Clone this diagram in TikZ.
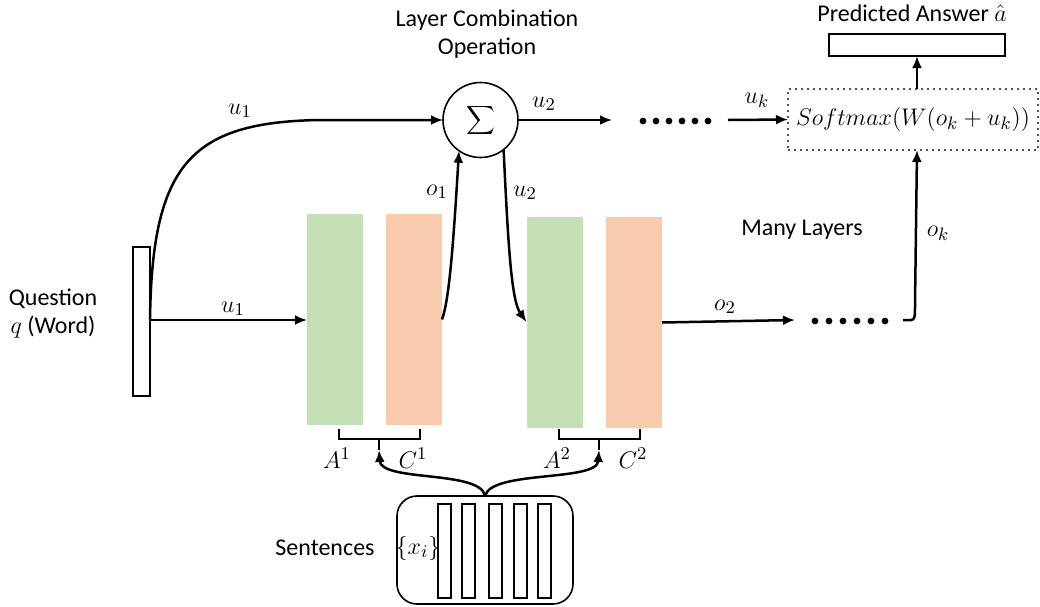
\documentclass[tikz,border=0pt]{standalone}
\usepackage{fontspec}
\setmainfont{Carlito}
\usetikzlibrary{arrows.meta}
\definecolor{boxgreen}{HTML}{C5E0B4}
\definecolor{boxorange}{HTML}{F8CBAD}
\definecolor{dotblue}{HTML}{2F5597}
\begin{document}
\begin{tikzpicture}[x=0.5pt,y=-0.5pt,
  every node/.style={inner sep=0pt, outer sep=0pt},
  txt/.style={font=\fontsize{12}{14}\selectfont, align=center},
  mlbl/.style={font=\fontsize{13}{15}\selectfont},
  conn/.style={line width=1.25pt, -{Latex[length=6pt,width=5pt]}},
  outline/.style={draw, line width=0.8pt},
  memgreen/.style={fill=boxgreen, minimum width=28pt, minimum height=105.5pt},
  memorange/.style={fill=boxorange, minimum width=28pt, minimum height=105.5pt},
  sentbar/.style={outline, fill=white, minimum width=6.5pt, minimum height=47pt},
  dotrow/.style={minimum height=6pt},
  bracket/.style={line width=0.8pt}
]
\useasboundingbox (0,0) rectangle (1040,606);

% question vector
\node[outline, minimum width=8.5pt, minimum height=74.5pt] (q) at (141.5,321.5) {};
\coordinate (qo) at (150,320);
\node[txt] (qtxt) at (53,314) {Question\\$q$ (Word)};

% memory layers
\node[memgreen]  (g1) at (335,319.5) {};
\node[memorange] (o1) at (414,319.5) {};
\node[memgreen]  (g2) at (554.5,322) {};
\node[memorange] (o2) at (634,322.5) {};

% combination operation
\node[draw, circle, line width=0.8pt, minimum size=37.5pt] (sigma) at (480.5,120)
  {\fontsize{15}{17}\selectfont$\displaystyle\sum$};
\node[txt] (comb) at (487,34) {Layer Combination\\Operation};

% output stage
\node[draw=dotblue, dotted, line width=1pt, minimum width=125pt, minimum height=30.5pt] (soft) at (913,119.5)
  {\fontsize{12.5}{14}\selectfont$Softmax(W(o_k+u_k))$};
\node[outline, minimum width=88pt, minimum height=11pt] (pred) at (917,45) {};
\node[txt] (predtxt) at (912,13) {Predicted Answer $\hat{a}$};
\node[txt] (many) at (802,230) {Many Layers};

% dotted continuations
\node[dotrow, minimum width=58pt] (dots1) at (670,120) {};
\foreach \x in {643,656,669,682,695,708} \fill (\x,121) circle (3.4);
\node[dotrow, minimum width=54pt] (dots2) at (849,320) {};
\foreach \x in {815,829,843,857,871,885} \fill (\x,321) circle (3.4);

% sentences
\node[outline, rounded corners=10pt, minimum width=88pt, minimum height=54pt] (sent) at (485,550) {};
\foreach \x/\n in {444.5/b1,468.5/b2,495.5/b3,520.5/b4,544.5/b5}
  \node[sentbar] (\n) at (\x,551) {};
\node[mlbl] (xi) at (418,548) {$\{x_i\}$};
\node[txt] (senttxt) at (325,548) {Sentences};

% embedding brackets
\draw[bracket] (339,429) -- (339,439) -- (420,439) -- (420,429);
\coordinate (br1) at (379,450);
\draw[bracket] (379,439) -- (br1);
\draw[bracket] (559,429) -- (559,439) -- (640,439) -- (640,429);
\coordinate (br2) at (599,450);
\draw[bracket] (599,439) -- (br2);
\node[mlbl] (A1) at (337,458) {$A^1$};
\node[mlbl] (C1) at (413,458) {$C^1$};
\node[mlbl] (A2) at (557,458) {$A^2$};
\node[mlbl] (C2) at (633,458) {$C^2$};

% connectors
\draw[conn] (qo) -- (g1.west |- qo);
\node[mlbl] at (233,309) {$u_1$};
\draw[conn] (qo) .. controls (152,165) and (190,122) .. (320,120) -- (sigma.west);
\node[mlbl] at (240,111) {$u_1$};
\draw[conn] (o1.east) .. controls (449,300) and (453,250) .. (sigma.235);
\node[mlbl] at (437,192) {$o_1$};
\draw[conn] (sigma.308) .. controls (508,240) and (511,300) .. (g2.west);
\node[mlbl] at (525,193) {$u_2$};
\draw[conn] (sigma.east) -- (dots1.west);
\node[mlbl] at (544,104) {$u_2$};
\draw[conn] (dots1.east) -- (soft.west);
\node[mlbl] at (757,100) {$u_k$};
\draw[conn] (pred.south |- soft.north) -- (pred.south);
\draw[conn] (o2.east) -- (dots2.west);
\node[mlbl] at (725,307) {$o_2$};
\draw[conn] (dots2.east) -- (911,320) .. controls (915,320) and (915,316) .. (915,305) -- (pred.south |- soft.south);
\node[mlbl] at (938,233) {$o_k$};
\draw[conn] (sent.north) .. controls (481,470) and (381,482) .. (br1);
\draw[conn] (sent.north) .. controls (491,470) and (597,482) .. (br2);
\end{tikzpicture}
\end{document}
